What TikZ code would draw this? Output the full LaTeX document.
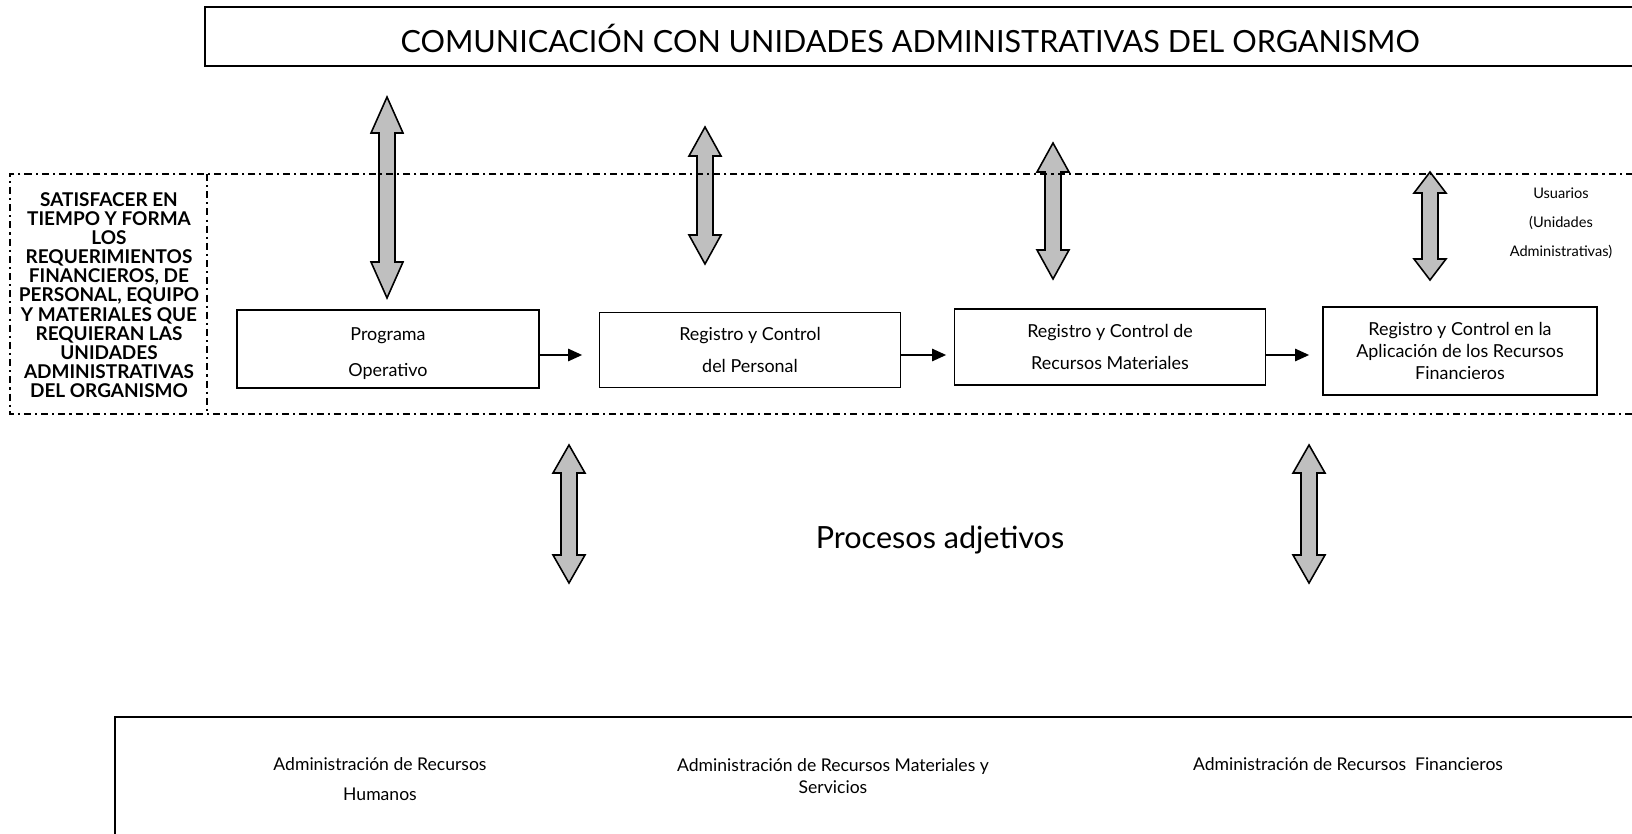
\documentclass[tikz,border=0pt]{standalone}
\usepackage{fontspec}
\setmainfont{Lato}
\usetikzlibrary{positioning, arrows.meta}

% grey up-down block arrow: x, top, bottom, head length
\newcommand{\blockpair}[4]{%
  \filldraw[block arrow] (#1,#2) -- ({#1+16},{#2+#4}) -- ({#1+8},{#2+#4})
    -- ({#1+8},{#3-#4}) -- ({#1+16},{#3-#4}) -- (#1,#3)
    -- ({#1-16},{#3-#4}) -- ({#1-8},{#3-#4}) -- ({#1-8},{#2+#4})
    -- ({#1-16},{#2+#4}) -- cycle;}

\begin{document}
\begin{tikzpicture}[x=0.02cm, y=-0.02cm, line join=miter,
  proc box/.style={draw,line width=1pt,align=center,inner sep=0pt,font=\fontsize{10.2}{12.5}\selectfont},
  plain text/.style={align=center,inner sep=0pt,font=\fontsize{10}{12.5}\selectfont},
  big text/.style={inner sep=0pt,font=\fontsize{17.4}{21}\selectfont},
  small text/.style={align=center,inner sep=0pt,font=\fontsize{8.3}{10}\selectfont},
  goal text/.style={align=center,inner sep=0pt,font=\fontsize{10.8}{10.9}\selectfont\bfseries},
  frame/.style={draw,line width=0.9pt},
  region/.style={line width=1.1pt,dash pattern=on 4pt off 2.3pt on 1.2pt off 2.3pt},
  block arrow/.style={fill=black!25,draw=black,line width=0.9pt},
  flow/.style={line width=1.1pt,-{Triangle[length=8pt,width=7pt]}}]

\clip (0,0) rectangle (1632,834);

\draw[frame] (205,7) rectangle (1650,66);
\node[big text] (title) at (910,38) {COMUNICACIÓN CON UNIDADES ADMINISTRATIVAS DEL ORGANISMO};

\blockpair{387}{97}{298}{36}
\blockpair{705}{127}{264}{29}
\blockpair{1053}{143}{279}{29}
\blockpair{1430}{172}{280}{21}
\blockpair{569}{445}{583}{28}
\blockpair{1309}{445}{583}{28}

\draw[region] (1650,174) -- (10,174) -- (10,414) -- (1650,414);
\draw[region, line width=1.6pt] (207,174) -- (207,414);

\node[goal text] (goal) at (109,295) {SATISFACER EN\\TIEMPO Y FORMA\\LOS\\REQUERIMIENTOS\\FINANCIEROS, DE\\PERSONAL, EQUIPO\\Y MATERIALES QUE\\REQUIERAN LAS\\UNIDADES\\ADMINISTRATIVAS\\DEL ORGANISMO};

\node[proc box, minimum width=6.04cm, minimum height=1.56cm] (prog) at (388,349) {};
\node[align=center, inner sep=0pt, font=\fontsize{10.2}{12.5}\selectfont] (progtxt) at (388,354) {Programa\\[8pt]Operativo};
\node[proc box, minimum width=6.02cm, minimum height=1.5cm] (pers) at (750,350) {Registro y Control\\[6pt]del Personal};
\node[proc box, minimum width=6.22cm, minimum height=1.52cm] (mat) at (1110,347) {Registro y Control de\\[6pt]Recursos Materiales};
\node[proc box, minimum width=5.48cm, minimum height=1.76cm] (fin) at (1460,351) {Registro y Control en la\\Aplicación de los Recursos\\Financieros};

\coordinate (lvl) at (0,355);
\draw[flow, shorten >=0.33cm] (prog.east |- lvl) -- (pers.west |- lvl);
\draw[flow, shorten >=0.15cm] (pers.east |- lvl) -- (mat.west |- lvl);
\draw[flow, shorten >=0.26cm] (mat.east |- lvl) -- (fin.west |- lvl);

\node[small text] (users) at (1561,223) {Usuarios\\[6.5pt](Unidades\\[6.5pt]Administrativas)};

\node[big text] (adj) at (940,540) {Procesos adjetivos};

\draw[frame] (115,717) rectangle (1650,850);
\node[plain text] (rh) at (380,779) {Administración de Recursos\\[4.5pt]Humanos};
\node[plain text] (rm) at (833,776) {Administración de Recursos Materiales y\\Servicios};
\node[plain text] (rf) at (1348,764) {Administración de Recursos~ Financieros};

\end{tikzpicture}
\end{document}
